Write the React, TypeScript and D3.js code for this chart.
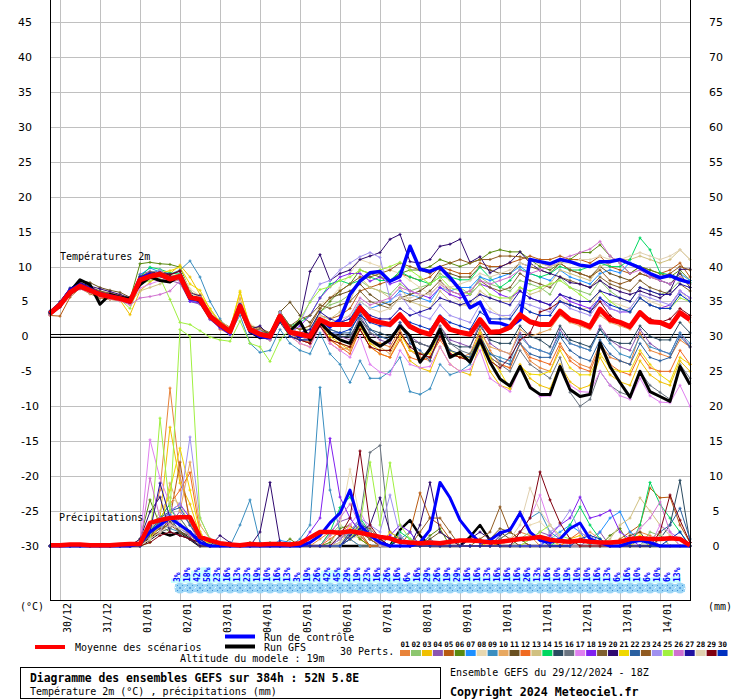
import React from "react";
import * as d3 from "d3";

// GEFS ensemble, run 29/12/2024 18Z, one value every 6 h (step 0 = 29/12 18Z, step 64 = +384h)
const STEP_H = 6;
const N_STEPS = 65;

const dayLabels = ["30/12", "31/12", "01/01", "02/01", "03/01", "04/01", "05/01", "06/01",
  "07/01", "08/01", "09/01", "10/01", "11/01", "12/01", "13/01", "14/01"];
const firstDayHour = 6; // 30/12 00Z

const leftTicks = [45, 40, 35, 30, 25, 20, 15, 10, 5, 0, -5, -10, -15, -20, -25, -30];
const rightTicks = [75, 70, 65, 60, 55, 50, 45, 40, 35, 30, 25, 20, 15, 10, 5, 0];

const memberColors = ["#e8833a", "#8cc66e", "#f0c000", "#8b55b0", "#b85a10", "#5a8a10", "#1e90ff",
  "#e8d8b0", "#3a8ec0", "#e8a860", "#6a5020", "#f06a20", "#d0c080", "#00d860", "#2a4a60",
  "#6a7480", "#e080f0", "#8020f0", "#806030", "#300a70", "#f0d800", "#2a60a0", "#905a20",
  "#a090f0", "#a0f040", "#d070d0", "#2010a0", "#e0d0b0", "#800010", "#0030c0"];

// 2 m temperature (°C)
const meanTemp = [3.3, 4.5, 6.3, 7.2, 6.6, 6.0, 5.7, 5.4, 5.0, 8.1, 8.6, 8.9, 8.2, 8.6,
  5.6, 5.3, 2.9, 1.7, 0.7, 4.3, 1.0, 0.3,
  0.0, 2.9, 0.6, 0.3, 0.0, 2.4, 1.7, 1.7, 1.7, 4.1, 2.4, 2.0, 1.7, 3.1, 1.4, 0.7,
  0.3, 2.7, 1.0, 0.6, 0.3, 2.4, 0.6, 0.7, 1.3, 3.1, 2.1, 1.7, 1.7, 3.6, 2.4, 2.0,
  1.4, 3.9, 2.4, 2.0, 1.4, 3.4, 2.1, 2.0, 1.4, 3.4, 2.4];

const controlTemp = [3.4, 4.6, 6.6, 7.4, 6.8, 6.1, 5.8, 5.5, 4.9, 8.3, 8.9, 8.7, 8.3, 8.5,
  5.4, 5.2, 3.0, 1.5, 0.5, 4.5, 0.8, 0.0,
  -0.2, 2.6, 0.6, 0.0, 0.3, 2.5, 1.4, 2.4, 6.0, 7.9, 9.1, 9.3, 7.9, 8.6, 12.9, 9.6,
  9.3, 9.9, 8.4, 6.7, 4.1, 4.9, 2.0, 1.9, 1.4, 2.4, 11.0, 10.7, 10.4, 11.0, 10.7, 10.2,
  10.0, 10.7, 10.7, 11.0, 10.4, 9.8, 9.0, 8.4, 8.7, 8.1, 7.7];

const gfsTemp = [3.2, 4.3, 6.4, 8.1, 7.4, 4.6, 6.0, 5.6, 5.4, 7.4, 8.5, 8.0, 7.8, 8.7,
  5.8, 5.0, 2.8, 1.5, 0.8, 4.0, 0.7, -0.2,
  0.1, 2.5, 0.8, 2.1, -0.5, 2.0, 0.5, -0.5, -1.0, 2.0, -0.5, -1.4, -0.5, 1.5, 0.1, -3.7,
  -1.8, 1.0, -3.0, -2.3, -3.7, -0.5, -3.7, -6.1, -7.1, -4.3, -7.3, -8.3, -8.3, -4.3, -7.6, -8.6,
  -8.3, -0.9, -4.3, -6.6, -8.7, -5.0, -7.9, -8.6, -9.3, -4.3, -6.9];

const memberTemps: number[][] = [
  [3.5, 4.8, 6.6, 7.0, 6.4, 6.3, 6.0, 5.8, 4.6, 8.4, 8.9, 8.7, 8.5, 9.0, 6.0, 5.0, 3.2, 1.0, 0.4, 4.6, 1.2, 0.6,
    -0.2, 3.5, 0.4, -0.5, -0.8, 1.5, -1.0, -2.0, -1.5, 2.0, -0.5, -1.0, -1.5, 1.0, -2.0, -3.0, -3.5, 0.5, -2.5, -3.0,
    -2.5, 1.0, -2.0, -4.0, -4.5, -1.0, -3.5, -4.5, -5.0, -1.5, -3.0, -4.0, -4.5, -1.0, -3.0, -3.5, -4.0, 0.5, -2.0, -2.5, -3.0, -0.5, -1.5],
  [3.2, 4.4, 6.1, 7.4, 6.9, 6.2, 5.9, 5.6, 5.2, 8.6, 9.2, 9.4, 8.8, 8.3, 5.2, 4.8, 2.5, 1.8, 0.9, 4.0, 1.3, 0.5,
    0.5, 3.0, 1.5, 1.0, 1.0, 3.5, 4.5, 5.0, 6.0, 8.0, 7.0, 6.5, 6.0, 7.5, 6.5, 7.0, 7.5, 9.0, 8.0, 7.0,
    6.0, 8.5, 7.5, 7.0, 6.5, 8.0, 7.5, 7.0, 6.0, 8.5, 7.0, 6.5, 6.0, 8.0, 6.5, 5.5, 5.0, 7.0, 6.5, 6.0, 6.5, 8.0, 7.5],
  [3.4, 4.3, 6.0, 6.9, 6.3, 5.8, 5.4, 5.2, 3.1, 6.5, 7.8, 8.6, 9.0, 10.2, 8.5, 6.0, 4.0, 2.0, 1.0, 6.3, 1.5, 0.2,
    -0.5, 3.0, 0.0, -1.0, -1.5, 2.0, -0.5, -1.0, -2.0, 1.0, -1.5, -2.5, -3.0, 0.0, -3.5, -4.5, -5.0, -1.5, -4.0, -5.0,
    -5.5, -1.0, -5.0, -7.0, -7.5, -4.0, -6.0, -7.0, -7.5, -4.0, -6.5, -7.5, -7.0, -3.0, -5.5, -6.5, -7.0, -3.5, -5.5, -6.5, -7.0, -3.5, -5.0],
  [3.1, 4.6, 6.8, 7.6, 7.0, 6.4, 5.9, 5.7, 5.4, 8.9, 9.3, 9.1, 8.0, 7.6, 5.0, 4.6, 2.4, 1.2, 0.2, 3.8, 0.5, -0.2,
    0.0, 2.5, 0.5, 0.0, -0.5, 2.5, 0.5, 0.0, -0.5, 3.0, 0.5, -0.5, -1.0, 2.0, 0.0, -1.0, -1.5, 1.5, -0.5, -1.0,
    -1.5, 2.0, -1.0, -2.0, -2.5, 0.5, -1.5, -2.0, -2.5, 1.0, -1.0, -1.5, -2.0, 1.5, -0.5, -1.5, -2.0, 1.0, -1.0, -2.0, -2.5, 0.5, -1.5],
  [3.0, 2.9, 5.6, 6.9, 6.1, 5.5, 5.3, 5.1, 4.7, 7.6, 8.3, 8.6, 8.0, 8.9, 6.2, 5.9, 3.5, 2.2, 1.3, 4.9, 1.6, 0.9,
    0.0, 3.0, 1.0, 0.5, 0.5, 3.0, 2.5, 3.0, 4.0, 6.5, 7.0, 7.5, 8.0, 9.0, 8.5, 8.0, 8.5, 10.0, 9.5, 9.0,
    9.0, 10.5, 10.0, 10.0, 10.5, 11.0, 11.5, 11.0, 11.0, 11.5, 11.0, 11.0, 10.5, 11.5, 10.0, 9.5, 9.0, 10.0, 9.5, 9.0, 9.5, 10.5, 8.5],
  [3.3, 4.6, 6.4, 7.5, 6.9, 6.3, 6.1, 5.8, 5.3, 10.4, 10.6, 10.4, 10.3, 9.9, 6.5, 5.5, 3.0, 2.0, 1.0, 4.0, 1.2, 0.5,
    0.2, 3.0, 1.0, 0.5, 0.5, 3.5, 5.0, 6.5, 7.5, 9.5, 9.0, 8.5, 8.0, 9.0, 9.5, 9.5, 10.0, 11.0, 10.5, 10.0,
    10.5, 11.0, 12.0, 12.4, 12.1, 12.1, 11.0, 10.0, 9.5, 10.5, 11.0, 12.0, 12.0, 13.1, 11.5, 10.5, 9.0, 10.0, 9.5, 9.0, 8.5, 9.5, 8.0],
  [3.6, 4.9, 6.9, 7.3, 6.7, 6.2, 6.0, 5.5, 5.1, 8.8, 9.8, 9.2, 9.0, 8.2, 5.0, 4.9, 2.6, 1.4, 0.3, 4.2, 0.6, 0.1,
    0.0, 2.8, 0.6, 0.2, 0.0, 2.5, 1.5, 2.0, 2.5, 5.0, 4.0, 4.5, 5.0, 6.5, 6.0, 5.5, 5.0, 7.0, 6.5, 7.0,
    7.0, 8.5, 8.0, 8.5, 9.0, 10.0, 9.0, 8.5, 8.0, 9.5, 8.5, 8.0, 7.5, 9.0, 9.5, 9.1, 10.6, 10.0, 9.0, 8.0, 7.5, 9.0, 8.0],
  [3.4, 4.5, 6.3, 7.0, 6.6, 6.1, 5.8, 5.6, 5.5, 8.0, 8.7, 9.1, 8.6, 9.4, 6.8, 5.8, 3.4, 2.3, 1.1, 5.0, 1.8, 1.0,
    0.5, 3.5, 1.5, 1.0, 1.5, 4.5, 5.5, 7.0, 9.0, 11.0, 10.5, 10.0, 9.5, 9.0, 8.0, 7.0, 6.0, 7.5, 6.0, 5.0,
    4.0, 6.0, 4.0, 3.0, 2.5, 5.0, 3.5, 3.0, 3.0, 5.5, 4.5, 4.0, 4.0, 6.5, 5.0, 4.5, 4.0, 6.0, 5.0, 4.5, 4.0, 6.5, 5.0],
  [3.2, 4.4, 6.2, 7.1, 6.5, 5.9, 5.5, 5.3, 4.9, 7.9, 8.5, 8.8, 8.9, 9.5, 10.8, 8.5, 5.0, 2.5, 0.5, 3.0, -1.0, -2.3,
    -2.0, 1.0, -1.0, -2.0, -2.5, 0.5, -2.5, -4.0, -6.6, -3.5, -6.0, -6.0, -5.0, -3.0, -7.9, -8.3, -7.5, -4.0, -5.5, -5.0,
    -4.0, -1.0, -2.5, -3.0, -3.5, 0.0, -1.5, -2.0, -2.5, 0.5, -1.0, -1.5, -2.0, 1.0, -1.0, -2.5, -3.0, 0.0, -1.5, -2.0, -2.5, 0.5, -1.0],
  [3.3, 4.6, 6.5, 7.3, 6.7, 6.1, 5.7, 5.4, 5.0, 8.2, 8.8, 9.0, 8.4, 8.7, 5.5, 5.4, 3.1, 1.9, 0.6, 5.5, 1.4, 0.2,
    0.0, 2.5, 0.0, -0.5, -1.0, 1.5, -0.5, -1.5, -2.0, 1.5, -1.0, -1.5, -2.5, 0.5, -2.0, -2.5, -3.0, 0.0, -2.0, -2.5,
    -3.0, 0.5, -1.5, -2.0, -2.5, 1.0, 0.0, 0.5, 1.0, 3.0, 2.0, 1.5, 1.0, 3.0, 2.0, 1.5, 1.0, 3.5, 2.5, 2.0, 1.5, 3.5, 2.0],
  [3.4, 4.7, 6.7, 8.0, 7.7, 7.0, 6.6, 6.3, 5.6, 8.3, 8.8, 8.9, 8.4, 8.6, 5.8, 5.6, 3.3, 2.0, 0.9, 3.9, 1.0, 0.6,
    0.5, 3.5, 4.9, 3.0, 2.0, 4.0, 5.5, 6.0, 6.5, 7.5, 6.0, 5.0, 4.5, 5.5, 6.0, 6.5, 7.5, 9.5, 9.0, 8.5,
    8.5, 10.0, 9.5, 9.0, 9.0, 10.5, 10.0, 9.5, 9.0, 10.5, 9.5, 9.0, 8.5, 10.0, 9.0, 8.5, 8.0, 9.0, 8.5, 8.0, 7.5, 9.0, 7.0],
  [3.2, 4.3, 6.0, 7.0, 6.5, 6.0, 5.6, 5.5, 5.2, 8.4, 8.9, 8.7, 8.1, 8.0, 5.3, 5.0, 2.6, 1.6, 0.4, 4.4, 0.8, 0.0,
    -0.5, 2.5, 0.0, -0.5, -1.0, 2.0, -0.5, -1.5, -2.5, 1.0, -1.5, -2.5, -3.0, -0.5, -3.0, -3.5, -3.0, -0.5, -2.5, -3.0,
    -3.5, -0.5, -3.0, -4.0, -4.5, -1.0, -3.0, -3.5, -4.0, -1.0, -3.5, -4.5, -5.0, -1.5, -4.0, -5.0, -5.5, -2.5, -4.5, -5.0, -5.0, -2.0, -4.0],
  [3.2, 4.3, 6.0, 6.8, 6.2, 5.7, 5.3, 5.2, 4.8, 6.5, 7.0, 7.5, 8.5, 9.0, 6.4, 5.7, 3.6, 2.2, 1.2, 4.7, 1.5, 0.8,
    0.0, 3.5, 1.0, 0.5, 0.5, 3.0, 2.5, 3.5, 5.0, 8.5, 7.0, 6.5, 5.5, 7.0, 5.0, 4.5, 4.0, 6.5, 5.0, 4.5,
    4.5, 6.5, 5.5, 5.0, 5.0, 7.0, 6.0, 6.5, 7.5, 9.5, 9.0, 8.5, 8.0, 10.0, 10.5, 11.0, 11.0, 11.5, 11.0, 10.5, 11.0, 12.4, 11.0],
  [3.5, 4.7, 6.5, 7.4, 6.8, 6.2, 5.9, 5.6, 5.3, 8.5, 9.9, 9.6, 9.1, 8.9, 5.7, 5.1, 2.7, 1.6, 0.6, 4.1, 1.1, 0.8,
    0.5, 3.5, 1.5, 2.0, 3.0, 5.5, 7.5, 8.0, 7.5, 8.0, 8.5, 8.0, 8.0, 9.3, 8.5, 8.0, 7.5, 8.5, 8.5, 8.1,
    8.1, 9.9, 8.4, 7.0, 8.0, 9.6, 9.0, 8.5, 9.0, 10.0, 9.5, 9.5, 10.0, 10.5, 10.0, 10.0, 11.0, 14.1, 12.4, 9.1, 8.8, 8.4, 7.7],
  [3.3, 4.5, 6.4, 7.1, 6.5, 5.9, 5.6, 5.3, 4.9, 8.1, 8.6, 8.8, 8.3, 8.4, 5.5, 5.3, 2.8, 1.7, 0.5, 4.0, 0.7, -0.1,
    -0.5, 2.0, 0.0, -0.5, -0.5, 2.0, 0.5, 0.0, 0.0, 2.5, 1.0, 0.5, 0.0, 1.5, -0.5, -1.0, -1.5, 1.0, -1.0, -1.5,
    -1.5, 1.5, -0.5, -1.0, -1.0, 1.5, 0.0, -0.5, -1.5, 1.5, -0.5, -1.0, -1.5, 1.0, -0.5, -1.0, -1.0, 1.5, 0.0, -0.5, -0.5, 2.0, 0.5],
  [3.4, 4.6, 6.3, 7.2, 6.7, 6.1, 5.8, 5.5, 5.1, 8.0, 8.4, 8.9, 8.5, 8.8, 5.9, 5.4, 3.0, 1.8, 0.8, 4.4, 1.1, 0.4,
    0.0, 2.5, 0.5, 0.0, -0.5, 2.5, 1.0, 0.5, 0.0, 2.5, 0.5, 0.0, -0.5, 1.5, -0.5, -1.0, -1.5, 1.5, -1.0, -2.0,
    -2.5, 0.0, -3.0, -4.0, -5.0, -2.0, -4.0, -5.0, -6.0, -3.0, -8.0, -10.0, -9.0, -5.0, -7.0, -8.0, -8.5, -5.0, -7.0, -8.0, -9.0, -4.0, -6.0],
  [3.1, 4.2, 5.9, 7.0, 6.5, 5.9, 5.5, 5.3, 4.8, 6.9, 7.5, 8.0, 8.3, 8.7, 5.6, 5.2, 2.6, 1.5, 0.4, 4.5, 0.9, 0.0,
    -0.5, 2.5, 0.0, -1.0, -1.5, 1.5, -1.0, -2.0, -3.0, 0.0, -4.0, -5.1, -5.5, -2.0, -4.0, -4.5, -4.3, -1.5, -4.0, -5.0,
    -4.7, -2.0, -6.0, -7.0, -7.9, -4.5, -7.0, -8.6, -8.5, -4.3, -7.0, -7.9, -8.0, -5.0, -7.0, -8.5, -9.0, -6.0, -8.5, -9.4, -9.5, -7.0, -10.0],
  [3.4, 4.6, 6.5, 7.3, 6.8, 6.2, 5.8, 5.6, 5.1, 8.2, 8.9, 9.3, 8.5, 8.2, 5.0, 4.8, 2.5, 1.2, 0.3, 3.9, 0.7, 0.4,
    0.0, 3.0, 0.5, 1.5, 3.0, 5.5, 7.1, 8.5, 9.0, 9.0, 7.9, 8.5, 7.5, 8.0, 6.5, 6.0, 5.5, 7.0, 6.0, 5.5,
    6.0, 7.5, 7.0, 6.0, 5.5, 6.5, 5.5, 5.0, 4.5, 6.0, 5.0, 4.5, 4.0, 5.5, 4.0, 3.5, 3.5, 5.5, 4.5, 4.0, 4.5, 6.5, 5.5],
  [3.3, 4.5, 6.5, 7.6, 7.1, 6.5, 6.2, 5.9, 5.3, 8.6, 9.2, 9.0, 8.6, 8.6, 5.9, 5.5, 3.1, 2.2, 1.0, 4.6, 1.4, 1.2,
    0.5, 3.5, 1.5, 2.5, 3.0, 4.5, 4.0, 4.5, 5.0, 6.5, 5.0, 4.5, 4.0, 5.5, 5.0, 5.5, 6.5, 8.0, 6.5, 6.0,
    6.5, 8.0, 7.0, 6.5, 7.0, 9.0, 8.0, 7.5, 7.0, 8.5, 8.0, 7.5, 7.0, 8.5, 7.5, 7.0, 6.5, 8.0, 7.0, 6.5, 6.0, 7.5, 6.5],
  [3.6, 5.0, 6.9, 7.7, 7.2, 6.8, 6.4, 6.0, 5.5, 8.5, 9.0, 9.3, 8.9, 9.3, 6.2, 5.8, 3.2, 1.9, 0.9, 4.3, 1.0, 1.5,
    0.0, 3.0, 1.0, 2.4, 9.3, 11.7, 8.0, 9.0, 9.5, 11.0, 11.5, 12.0, 13.9, 14.6, 10.7, 10.5, 11.0, 12.9, 13.2, 13.9,
    10.6, 11.4, 9.1, 9.9, 10.6, 12.1, 10.5, 9.5, 9.0, 8.5, 7.7, 7.5, 7.0, 8.0, 7.0, 6.4, 6.0, 6.5, 6.0, 5.5, 6.5, 9.6, 9.6],
  [3.3, 4.4, 6.1, 7.0, 6.4, 5.9, 5.5, 5.2, 4.8, 7.9, 8.6, 9.1, 9.4, 9.9, 7.5, 6.6, 3.9, 2.1, 1.0, 6.5, 1.2, 0.2,
    0.0, 3.0, 0.5, 0.0, -0.5, 2.5, 0.0, -1.0, -1.5, 1.5, -1.0, -2.0, -2.0, 0.5, -2.0, -2.5, -2.5, 0.5, -2.0, -3.0,
    -3.0, 0.5, -3.0, -5.0, -7.5, -4.3, -5.4, -5.5, -5.0, -2.0, -4.5, -5.5, -5.5, -2.5, -4.5, -5.0, -5.0, -2.0, -4.0, -5.5, -6.5, -3.0, -4.0],
  [3.4, 4.6, 6.4, 7.2, 6.6, 6.0, 5.7, 5.5, 5.0, 8.2, 8.6, 8.9, 8.4, 8.8, 5.6, 5.3, 2.9, 1.7, 0.6, 4.2, 0.8, 0.1,
    0.0, 2.5, 0.5, 0.0, 0.0, 2.5, 1.0, 0.5, 0.5, 3.5, 1.0, 0.0, -0.5, 2.0, -1.0, -2.0, -3.5, 0.5, -2.0, -2.5,
    -3.0, 0.0, -2.5, -3.5, -4.0, -1.0, -2.5, -3.0, -3.0, 0.0, -2.0, -3.0, -3.5, -0.5, -2.5, -3.5, -4.0, -1.0, -3.0, -3.5, -3.0, 0.0, -1.5],
  [3.2, 4.4, 6.3, 7.5, 7.0, 6.4, 6.1, 5.8, 5.4, 8.3, 8.8, 9.0, 8.5, 8.7, 5.7, 5.4, 3.0, 1.9, 0.9, 4.4, 1.2, 0.9,
    0.5, 3.0, 1.5, 1.0, 1.5, 4.0, 5.5, 6.5, 7.5, 8.5, 8.5, 9.0, 9.5, 10.5, 10.0, 9.5, 9.0, 10.0, 10.5, 11.0,
    10.5, 11.0, 11.0, 11.5, 11.5, 11.4, 11.0, 10.5, 10.0, 10.5, 9.5, 9.0, 8.5, 9.5, 8.0, 7.5, 8.0, 9.0, 8.5, 8.5, 9.0, 10.0, 9.5],
  [3.3, 4.6, 6.6, 7.3, 6.7, 6.1, 5.8, 5.5, 5.0, 8.0, 8.6, 9.5, 8.3, 8.0, 5.4, 5.1, 2.7, 1.4, 0.5, 4.3, 1.0, 0.8,
    0.0, 3.5, 1.0, 2.0, 5.0, 7.5, 8.0, 9.5, 10.5, 11.4, 12.0, 11.3, 5.3, 6.0, 4.0, 3.0, 2.5, 4.5, 3.0, 2.5,
    2.0, 4.5, 3.5, 3.0, 3.0, 5.0, 4.5, 4.0, 3.5, 5.0, 4.0, 3.5, 3.0, 5.0, 4.0, 3.5, 4.0, 6.0, 5.5, 5.0, 4.5, 6.5, 5.5],
  [3.3, 4.4, 6.2, 7.0, 6.5, 5.8, 5.6, 5.3, 4.0, 7.5, 8.0, 8.4, 5.3, 2.0, 1.7, 0.8, -0.1, -0.5, -0.7, 2.2, -1.0, -1.5,
    -3.6, -0.5, 1.0, 2.5, 4.9, 6.7, 7.1, 8.0, 8.5, 9.5, 9.0, 9.5, 10.0, 10.6, 9.5, 8.5, 7.5, 8.5, 7.0, 6.5,
    6.0, 7.5, 6.0, 5.5, 5.5, 7.0, 6.5, 7.0, 7.5, 8.0, 7.0, 6.0, 5.0, 6.5, 5.0, 4.0, 3.5, 5.5, 4.5, 4.0, 4.0, 5.5, 5.0],
  [3.2, 4.3, 6.0, 6.8, 6.3, 5.7, 5.4, 5.1, 4.5, 5.5, 5.7, 6.0, 6.5, 8.0, 5.5, 5.3, 3.0, 1.6, 0.5, 4.3, 0.9, 0.2,
    0.0, 3.0, 0.5, 0.0, -0.5, 2.5, 1.5, 2.0, 3.0, 5.5, 4.5, 5.0, 5.5, 7.0, 6.5, 6.0, 6.0, 7.5, 6.5, 6.0,
    6.5, 8.0, 7.5, 8.0, 8.5, 9.5, 9.0, 9.5, 10.0, 11.0, 11.5, 12.0, 12.5, 13.6, 11.5, 10.5, 9.0, 9.5, 8.5, 8.0, 7.5, 8.5, 7.5],
  [3.4, 4.6, 6.4, 7.3, 6.7, 6.1, 5.8, 5.6, 5.1, 8.1, 8.7, 8.9, 8.3, 8.5, 5.6, 5.3, 2.8, 1.6, 0.7, 4.2, 0.9, 0.3,
    0.0, 3.0, 0.5, 0.5, 1.0, 3.5, 2.5, 2.0, 2.5, 4.5, 3.0, 2.5, 2.5, 4.0, 3.0, 3.5, 4.0, 5.5, 5.0, 4.5,
    5.0, 6.0, 5.5, 5.0, 4.5, 6.5, 5.5, 5.0, 4.5, 6.0, 5.5, 5.0, 5.0, 6.5, 6.0, 5.5, 5.0, 7.0, 6.5, 6.0, 6.0, 7.5, 7.0],
  [3.3, 4.5, 6.4, 7.0, 6.5, 6.0, 5.7, 5.4, 5.2, 7.7, 8.2, 8.4, 8.4, 8.8, 6.1, 5.6, 3.2, 1.8, 0.8, 4.4, 1.1, 0.5,
    0.0, 3.0, 1.0, 0.5, 0.5, 3.0, 2.0, 2.5, 3.0, 5.0, 4.0, 3.5, 4.0, 5.5, 5.5, 6.0, 6.0, 7.5, 7.0, 7.5,
    8.0, 9.0, 8.5, 9.0, 9.5, 10.5, 10.0, 10.5, 10.0, 10.5, 10.5, 11.0, 11.0, 11.5, 11.0, 11.0, 11.5, 12.0, 11.5, 11.0, 11.5, 12.4, 11.0],
  [3.3, 4.2, 5.9, 6.9, 6.4, 5.9, 5.6, 5.4, 5.0, 8.2, 8.8, 9.1, 8.8, 9.4, 5.9, 5.2, 2.8, 1.5, 0.5, 4.4, 0.8, 0.0,
    0.0, 2.5, 0.0, -0.5, -1.0, 1.5, -0.5, -1.0, -1.5, 1.0, -1.5, -2.0, -2.0, 0.5, -1.5, -2.5, -3.0, 0.0, -2.5, -3.0,
    -3.5, 0.0, -3.5, -4.5, -3.0, -0.5, 0.5, 3.5, 4.0, 5.0, 4.5, 4.0, 3.5, 5.0, 3.0, 2.0, 1.5, 3.5, 2.5, 2.0, 2.5, 4.0, 3.0],
  [3.4, 4.6, 6.5, 7.3, 6.7, 6.1, 5.8, 5.5, 5.1, 8.3, 8.8, 9.0, 8.4, 8.6, 5.6, 5.2, 2.8, 1.6, 0.7, 4.2, 1.0, 0.2,
    0.0, 2.5, 0.0, -0.5, -0.5, 2.0, 0.5, 0.5, 1.0, 3.0, 2.0, 1.5, 1.5, 3.0, 2.0, 1.5, 1.0, 3.0, 2.0, 1.5,
    1.0, 3.5, 2.5, 2.5, 2.5, 4.5, 3.5, 3.0, 3.0, 5.0, 4.5, 4.0, 3.5, 5.5, 4.5, 4.0, 3.5, 5.5, 4.5, 4.0, 4.0, 6.0, 5.0],
];

// 6-hourly precipitation (mm)
const meanPrecip = [0.1, 0.1, 0.2, 0.2, 0.1, 0.1, 0.1, 0.2, 0.3, 0.3,
  3.3, 3.7, 4.0, 4.1, 4.1, 1.3, 0.8, 0.4, 0.2, 0.1,
  0.3, 0.2, 0.3, 0.3, 0.2, 0.4, 1.2, 2.0, 2.0, 1.9,
  2.1, 1.9, 1.6, 1.3, 1.1, 0.6, 0.5, 0.4, 0.5, 0.4,
  0.6, 0.8, 0.8, 0.7, 0.5, 0.6, 0.8, 1.0, 1.1, 1.3,
  0.9, 0.7, 0.6, 0.8, 0.6, 0.5, 0.5, 0.6, 1.0, 1.1,
  1.0, 1.0, 1.1, 1.0, 0.1];

// [step, mm] pairs, steps not listed are dry
const controlPrecip: [number, number][] = [[9, 0.3], [10, 2], [11, 3], [12, 4], [13, 3], [14, 2], [15, 0.5],
  [26, 0.5], [27, 1.5], [28, 3.3], [29, 4.7], [30, 8.0], [31, 3.0], [32, 1.5], [33, 0.5], [37, 0.5], [38, 2.3],
  [39, 9.1], [40, 6.9], [41, 3.7], [42, 1.9], [43, 0.5], [44, 0.8], [45, 1.9], [46, 2.3], [47, 4.7], [48, 2.0],
  [49, 0.8], [50, 0.5], [51, 1], [52, 2.5], [53, 3.3], [54, 1], [55, 0.5], [58, 0.5], [59, 0.8], [60, 0.5]];

const gfsPrecip: [number, number][] = [[10, 1], [11, 2], [12, 1.5], [13, 2], [14, 1], [35, 2.3], [36, 3.7],
  [37, 1.5], [42, 1.3], [43, 3.0], [44, 0.8]];

const memberPrecip: [number, number][][] = [
  [[9, 0.5], [10, 3], [11, 8], [12, 22.6], [13, 10], [14, 4], [15, 1], [27, 1], [28, 2], [29, 1.5], [30, 1], [46, 1], [47, 2], [48, 1.5], [58, 1], [59, 2], [60, 1.5]],
  [[10, 2], [11, 3.5], [12, 5], [13, 4], [14, 2], [15, 0.5], [25, 0.5], [28, 1.5], [29, 3], [30, 2], [31, 1], [47, 1], [48, 2], [49, 1], [60, 2], [61, 1.5]],
  [[10, 1], [11, 4], [12, 17], [13, 9], [14, 6], [15, 1.5], [29, 1], [30, 2.5], [31, 1], [44, 0.5], [52, 1], [53, 1.5], [59, 1]],
  [[10, 2.5], [11, 4], [12, 3], [13, 5], [14, 3], [15, 0.5], [28, 2], [29, 3.5], [30, 4], [31, 2], [32, 1], [48, 1], [49, 2], [50, 1.5], [54, 1], [55, 2]],
  [[10, 1.5], [11, 2], [12, 4], [13, 12], [14, 3], [15, 1], [30, 1], [31, 2], [36, 2], [37, 7.6], [38, 4], [39, 3], [40, 1], [57, 1], [58, 2], [59, 3], [60, 8.3], [61, 6.9], [62, 7], [63, 3], [64, 0.5]],
  [[9, 1], [10, 6.6], [11, 3], [12, 2], [13, 1.5], [14, 1], [16, 0.5], [20, 0.5], [24, 1], [28, 0.5], [29, 2.5], [30, 3], [31, 1], [38, 1.5], [39, 2.5], [45, 1], [46, 2], [47, 1], [56, 1.5], [57, 2.5]],
  [[10, 2], [11, 3], [12, 4.5], [13, 3], [14, 2], [15, 0.5], [23, 0.8], [24, 0.5], [29, 1.5], [30, 2], [31, 3], [32, 1], [38, 1], [50, 1], [51, 2], [52, 3], [53, 2], [55, 2], [56, 4], [57, 4.9], [58, 2], [59, 1]],
  [[10, 1], [11, 2], [12, 3], [13, 3.5], [14, 1.5], [29, 3], [30, 11], [31, 4], [32, 1], [47, 2], [48, 3], [49, 3.5], [50, 2]],
  [[10, 1], [11, 3], [12, 2.5], [13, 2], [14, 1], [15, 0.5], [19, 3], [20, 6.6], [21, 0.5], [25, 1], [26, 3], [27, 22.7], [28, 8], [29, 2], [30, 1], [35, 1], [36, 2], [47, 2], [48, 4], [49, 4.9], [50, 2], [51, 1]],
  [[10, 1.5], [11, 2.5], [12, 9], [13, 5], [14, 12], [15, 3], [16, 1], [30, 1], [31, 2], [32, 1.5], [53, 1], [54, 2], [55, 1]],
  [[10, 1], [11, 2], [12, 3.5], [13, 2], [14, 1.5], [15, 0.5], [29, 1], [30, 2], [31, 1.5], [38, 1], [39, 2], [40, 1], [44, 1], [45, 2], [46, 1], [58, 1.5], [59, 2]],
  [[10, 1], [11, 4], [12, 6], [13, 8], [14, 10.5], [15, 2], [28, 1], [29, 2], [30, 3], [31, 1.5], [52, 1], [53, 2], [54, 1]],
  [[10, 2], [11, 5], [12, 7], [13, 6], [14, 3], [15, 1], [29, 0.5], [30, 2], [31, 3], [32, 2], [33, 1], [56, 1], [57, 3], [58, 4], [59, 6.9], [60, 5], [61, 3], [62, 1.5]],
  [[10, 2], [11, 4], [12, 6], [13, 2.5], [14, 1.5], [15, 0.5], [22, 0.5], [28, 2], [29, 5.5], [30, 7], [31, 4], [32, 2], [33, 1], [35, 2], [36, 1], [51, 1], [52, 3], [53, 5.6], [54, 3], [55, 1], [59, 3], [60, 9.1], [61, 6], [62, 4], [63, 2]],
  [[10, 1.5], [11, 3], [12, 4], [13, 2], [14, 1], [15, 0.5], [30, 1], [31, 2.5], [32, 1], [35, 1], [61, 1], [62, 3], [63, 9.4], [64, 0.5]],
  [[10, 1], [11, 2], [12, 2.5], [13, 4], [14, 2], [15, 0.5], [30, 2], [31, 4], [32, 13.4], [33, 14.4], [34, 1], [35, 1.5], [45, 1], [46, 2], [47, 1]],
  [[9, 0.5], [10, 15.2], [11, 9.7], [12, 6], [13, 3], [14, 2], [15, 0.5], [29, 1], [30, 3], [31, 5], [32, 2], [33, 1], [47, 2], [48, 4], [49, 7.3], [50, 3], [51, 1], [61, 3], [62, 2]],
  [[10, 1], [11, 3], [12, 5], [13, 6], [14, 4], [15, 1], [26, 2], [27, 4], [28, 15.4], [29, 7], [30, 4], [31, 2], [32, 1], [34, 1.5], [35, 3], [36, 2], [50, 1.5], [51, 3], [52, 4], [53, 7], [54, 4], [55, 4.4], [56, 5.1], [57, 2], [58, 1]],
  [[10, 1.5], [11, 2.5], [12, 3], [13, 2], [14, 1], [30, 1.5], [31, 3], [32, 2.5], [33, 1], [44, 1], [45, 2.5], [46, 2], [47, 1]],
  [[9, 1], [10, 4.9], [11, 7], [12, 2], [13, 1.5], [14, 1], [17, 1.5], [18, 0.5], [21, 2], [22, 9.1], [23, 0.5], [30, 1], [31, 2], [32, 3], [33, 6.9], [34, 2], [35, 1], [37, 3], [38, 9.1], [39, 2], [40, 1], [42, 1], [43, 2], [44, 1]],
  [[10, 1], [11, 3], [12, 8], [13, 14], [14, 8], [15, 2], [30, 1], [31, 2], [32, 1], [34, 2], [35, 1], [48, 1], [49, 1.5], [50, 1], [58, 1], [59, 1.5]],
  [[10, 2], [11, 4], [12, 5], [13, 5.5], [14, 3], [15, 1], [30, 2], [31, 3.5], [32, 2], [33, 1], [60, 1], [61, 2], [62, 3], [63, 5.4], [64, 1]],
  [[10, 1], [11, 2], [12, 4], [13, 3], [14, 1.5], [15, 0.5], [30, 1], [31, 2], [32, 1], [37, 2], [38, 4], [39, 4], [40, 2], [43, 1], [44, 2], [45, 5.6], [46, 2], [47, 1]],
  [[10, 1], [11, 2], [12, 5], [13, 6], [14, 15.6], [15, 4], [16, 1], [29, 1], [30, 2], [31, 4], [32, 3], [33, 2], [34, 7.3], [35, 1.5], [50, 2], [51, 3], [52, 5.1], [53, 2], [54, 1]],
  [[10, 0.5], [11, 18.3], [12, 5], [13, 31], [14, 30], [15, 4], [16, 1], [30, 1], [31, 3], [32, 12], [33, 3], [34, 11.9], [35, 3], [36, 1], [48, 1], [49, 2], [50, 3], [51, 1.5], [52, 1]],
  [[10, 9.7], [11, 4], [12, 3], [13, 2.5], [14, 1.5], [15, 0.5], [28, 1.5], [29, 4], [30, 6], [31, 3], [32, 1.5], [58, 1], [59, 2.5], [60, 4], [61, 6.3], [62, 2], [63, 1]],
  [[10, 2], [11, 9], [12, 4], [13, 3], [14, 2], [15, 1], [30, 1.5], [31, 2.5], [32, 2], [35, 1], [45, 1.5], [46, 2.5], [47, 4.9], [48, 2], [49, 1]],
  [[10, 1], [11, 2], [12, 3], [13, 2.5], [14, 2], [15, 0.5], [30, 1], [31, 1.5], [32, 2], [46, 1], [47, 3], [48, 8.3], [49, 5], [50, 3], [51, 1.5], [60, 1], [61, 2]],
  [[10, 0.5], [11, 1.5], [12, 2], [13, 1.5], [14, 1], [15, 0.5], [29, 1.5], [30, 4], [31, 13.6], [32, 3], [33, 1], [47, 2], [48, 4], [49, 10.6], [50, 6.6], [51, 3.3], [52, 1], [61, 2], [62, 7.3], [63, 3.7], [64, 0.5]],
  [[10, 2], [11, 3.5], [12, 4], [13, 3], [14, 2], [15, 0.5], [30, 1], [31, 2], [32, 1.5], [33, 0.5], [53, 1], [54, 1.5], [55, 1], [62, 1], [63, 2]],
];

// probability of snow (%) per step, from step 13 (02/01 00Z) onwards
const snowFirstStep = 13;
const snowPercent = [3, 19, 42, 58, 23, 16, 13, 23, 19, 10, 16, 13, 3, 19, 26, 42, 45, 29, 19, 23,
  16, 26, 16, 6, 16, 29, 26, 19, 29, 16, 16, 13, 16, 16, 16, 26, 13, 16, 10, 19,
  10, 10, 16, 13, 6, 16, 10, 6, 10, 6, 13];

const MONO = "'DejaVu Sans Mono', monospace";
const SANS = "'DejaVu Sans', sans-serif";

const densify = (pairs: [number, number][]) => {
  const out = new Array(N_STEPS).fill(0);
  pairs.forEach(([s, v]) => (out[s] = v));
  return out;
};

export default function App() {
  const x = d3.scaleLinear().domain([0, (N_STEPS - 1) * STEP_H]).range([50, 690]);
  const yT = d3.scaleLinear().domain([-30, 45]).range([546, 22]);
  const yP = d3.scaleLinear().domain([0, 75]).range([546, 22]);
  const xs = (i: number) => x(i * STEP_H);

  const tLine = d3.line<number>().x((_, i) => xs(i)).y((d) => yT(d));
  const pLine = d3.line<number>().x((_, i) => xs(i)).y((d) => yP(d));

  const crosses = (vals: number[], sc: (v: number) => number) =>
    vals.map((v, i) => {
      const cx = xs(i), cy = sc(v);
      return `M${cx - 1.5},${cy}h3M${cx},${cy - 1.5}v3`;
    }).join("");

  const memberP = memberPrecip.map(densify);
  const dayHours = dayLabels.map((_, i) => firstDayHour + i * 24);

  return (
    <svg width={740} height={700} style={{ position: "absolute", left: 0, top: 0, background: "#fff" }}>
      <rect width={740} height={700} fill="#fff" />

      {/* grid */}
      <g stroke="#c0c0c0" strokeWidth={1} shapeRendering="crispEdges">
        {leftTicks.map((t) => (
          <line key={t} x1={50} x2={690} y1={Math.round(yT(t)) + 0.5} y2={Math.round(yT(t)) + 0.5} />
        ))}
        {dayHours.map((h) => (
          <line key={h} x1={x(h) + 0.5} x2={x(h) + 0.5} y1={0} y2={600} />
        ))}
      </g>

      {/* zero line */}
      <g stroke="#000" strokeWidth={1} shapeRendering="crispEdges">
        <line x1={50} x2={690} y1={Math.round(yT(0)) - 1.5} y2={Math.round(yT(0)) - 1.5} />
        <line x1={50} x2={690} y1={Math.round(yT(0)) + 1.5} y2={Math.round(yT(0)) + 1.5} />
      </g>

      {/* snow probability strip */}
      <g>
        {snowPercent.map((p, k) => {
          const cx = xs(snowFirstStep + k);
          const hgt = 4 + p * 0.2;
          return <rect key={k} x={cx - 9} y={583 - hgt} width={10} height={hgt} fill="#ccffff" />;
        })}
        <rect x={xs(snowFirstStep) - 5} y={584} width={xs(N_STEPS - 2) - xs(snowFirstStep) + 10} height={8} fill="#9dd6f6" />
        {snowPercent.map((_, k) => {
          const cx = xs(snowFirstStep + k);
          return (
            <g key={k}>
              <circle cx={cx} cy={588} r={5.5} fill="#9dd6f6" />
              <rect x={cx - 3} y={585} width={1} height={1} fill="#3d8fd8" />
              <rect x={cx + 2} y={585} width={1} height={1} fill="#3d8fd8" />
              <rect x={cx - 3} y={590} width={1} height={1} fill="#3d8fd8" />
              <rect x={cx + 2} y={590} width={1} height={1} fill="#3d8fd8" />
              <rect x={cx - 1} y={587} width={2} height={2} fill="#5aa6e6" />
              <rect x={cx - 5} y={587} width={1} height={1} fill="#ffffff" />
              <rect x={cx + 4} y={588} width={1} height={1} fill="#ffffff" />
            </g>
          );
        })}
        {snowPercent.map((p, k) => {
          const cx = xs(snowFirstStep + k);
          return (
            <text key={k} transform={`translate(${cx},582) rotate(-90)`} fontFamily={MONO} fontSize={8}
              fontWeight="bold" fill="#0000ff">{`${p}%`}</text>
          );
        })}
      </g>

      {/* GFS precipitation sits under the members */}
      <path d={pLine(densify(gfsPrecip)) ?? ""} fill="none" stroke="#000" strokeWidth={2.5} strokeLinejoin="round" />

      {/* ensemble members */}
      <g fill="none" strokeWidth={1}>
        {memberTemps.map((vals, m) => (
          <g key={m} stroke={memberColors[m]}>
            <path d={pLine(memberP[m]) ?? ""} />
            <path d={crosses(memberP[m], yP)} />
            <path d={tLine(vals) ?? ""} />
            <path d={crosses(vals, yT)} />
          </g>
        ))}
      </g>

      {/* GFS, control, mean */}
      <g fill="none" strokeLinejoin="round">
        <path d={tLine(gfsTemp) ?? ""} stroke="#000" strokeWidth={3} />
        <path d={pLine(densify(controlPrecip)) ?? ""} stroke="#0000ff" strokeWidth={3} />
        <path d={tLine(controlTemp) ?? ""} stroke="#0000ff" strokeWidth={3.5} />
        <path d={pLine(meanPrecip) ?? ""} stroke="#ff0000" strokeWidth={4.5} />
        <path d={tLine(meanTemp) ?? ""} stroke="#ff0000" strokeWidth={5} />
      </g>

      {/* frame */}
      <g stroke="#000" strokeWidth={1} shapeRendering="crispEdges">
        <line x1={50.5} x2={50.5} y1={0} y2={600} />
        <line x1={690.5} x2={690.5} y1={0} y2={600} />
        <line x1={50} x2={691} y1={600.5} y2={600.5} />
      </g>

      {/* axes labels */}
      <g fontFamily={SANS} fontSize={11} fill="#000">
        {leftTicks.map((t) => (
          <text key={t} x={t < 0 ? 21 : 25} y={yT(t) + 4} textAnchor={t < 0 ? "start" : "middle"}>{t}</text>
        ))}
        {rightTicks.map((t) => (
          <text key={t} x={716} y={yP(t) + 4} textAnchor="middle">{t}</text>
        ))}
      </g>
      <g fontFamily={MONO} fontSize={10} fill="#000">
        <text x={60} y={260}>Températures 2m</text>
        <text x={59} y={521}>Précipitations</text>
        <text x={20} y={610}>(°C)</text>
        <text x={708} y={610}>(mm)</text>
        {dayLabels.map((d, i) => (
          <text key={d} transform={`translate(${x(dayHours[i]) + 11},603) rotate(-90)`} textAnchor="end">{d}</text>
        ))}
      </g>

      {/* legend */}
      <g fontFamily={MONO} fontSize={10} fill="#000">
        <line x1={35} x2={65} y1={647} y2={647} stroke="#ff0000" strokeWidth={4} />
        <text x={75} y={651}>Moyenne des scénarios</text>
        <line x1={225} x2={255} y1={636.5} y2={636.5} stroke="#0000ff" strokeWidth={4} />
        <text x={264} y={641}>Run de contrôle</text>
        <line x1={225} x2={255} y1={646.5} y2={646.5} stroke="#000" strokeWidth={4} />
        <text x={264} y={651}>Run GFS</text>
        <text x={180} y={662}>Altitude du modele : 19m</text>
        <text x={340} y={655}>30 Perts.</text>
        {memberColors.map((c, i) => (
          <g key={i}>
            <text x={405 + i * 10.95} y={647} fontSize={7.5} fontWeight="bold" textAnchor="middle">
              {String(i + 1).padStart(2, "0")}
            </text>
            <rect x={400 + i * 10.95} y={650} width={10} height={6} fill={c} />
          </g>
        ))}
      </g>

      {/* title box */}
      <rect x={20.5} y={667.5} width={420} height={31} fill="none" stroke="#000" strokeWidth={1} />
      <g fontFamily={MONO} fill="#000">
        <text x={30} y={682} fontSize={11.4} fontWeight="bold">Diagramme des ensembles GEFS sur 384h : 52N 5.8E</text>
        <text x={30} y={695} fontSize={10}>Température 2m (°C) , précipitations (mm)</text>
        <text x={450} y={676} fontSize={10}>Ensemble GEFS du 29/12/2024 - 18Z</text>
        <text x={450} y={696} fontSize={11.6} fontWeight="bold">Copyright 2024 Meteociel.fr</text>
      </g>
    </svg>
  );
}
